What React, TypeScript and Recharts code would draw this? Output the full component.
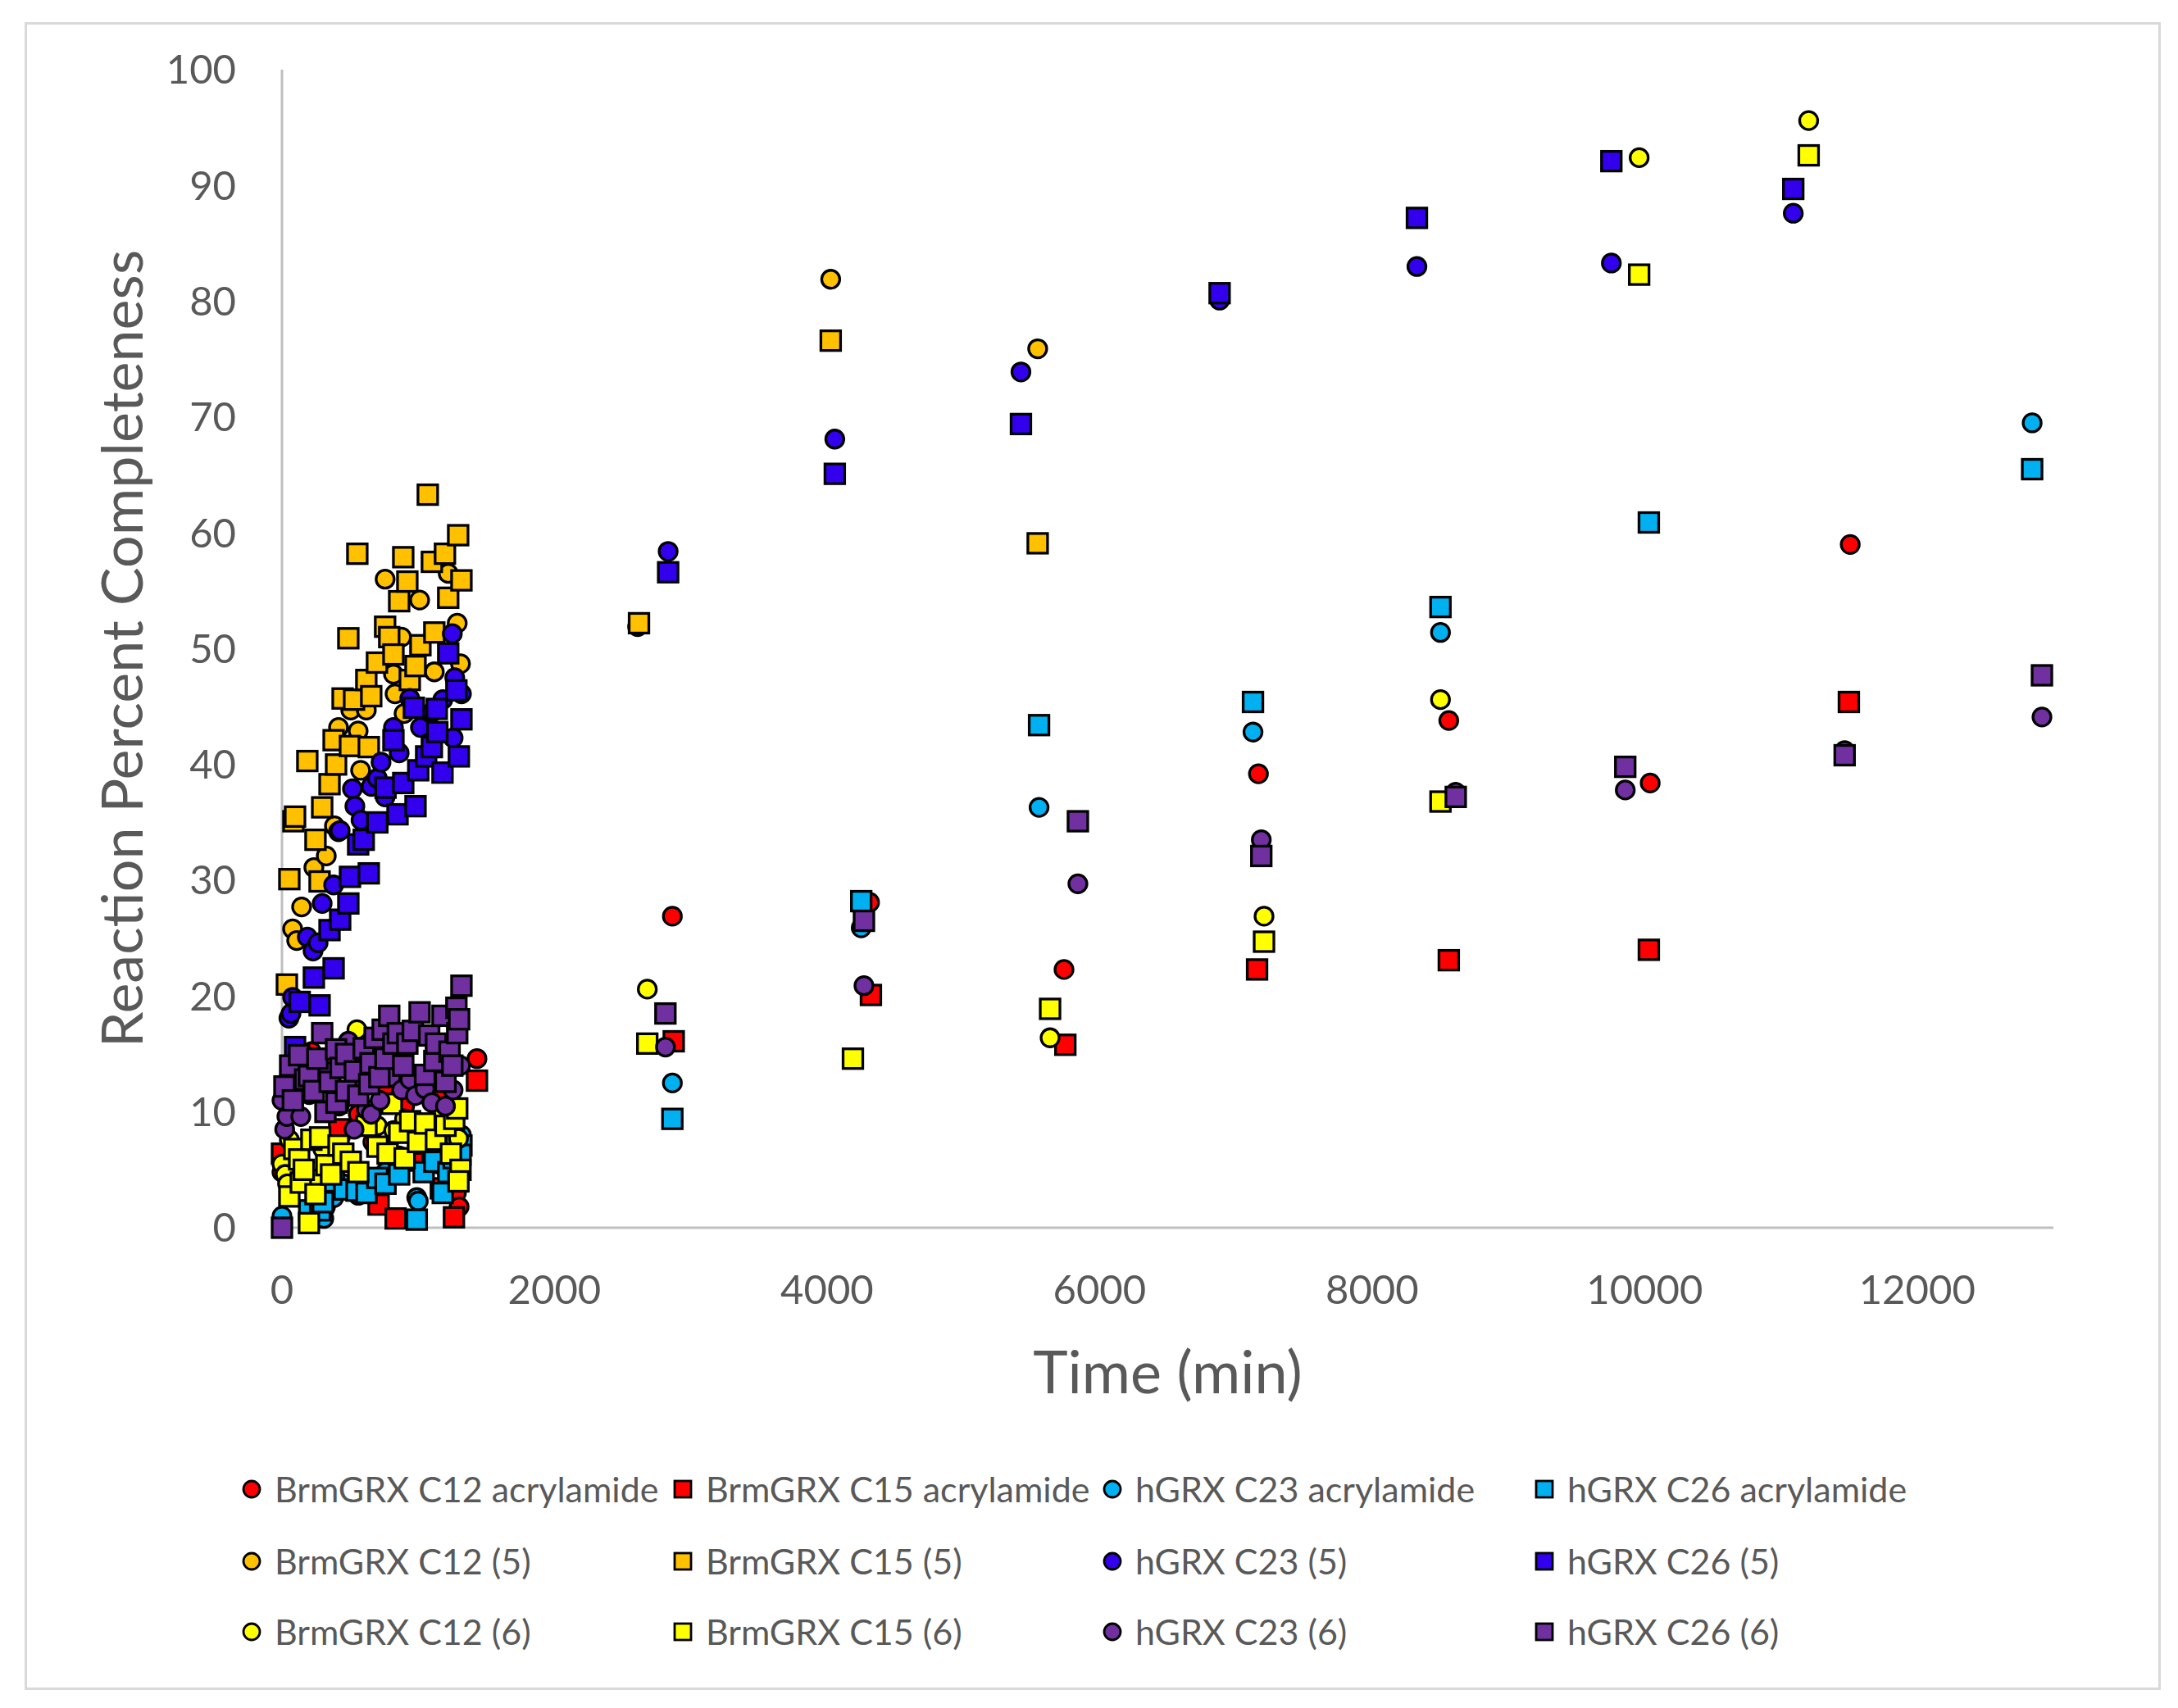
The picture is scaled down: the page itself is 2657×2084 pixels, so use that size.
import React from "react";
import { ScatterChart, Scatter, XAxis, YAxis, Legend } from "recharts";

type P = { x: number; y: number };
const toPts = (a: number[][]): P[] => a.map(([x, y]) => ({ x, y }));

const xTicks = [0, 2000, 4000, 6000, 8000, 10000, 12000];
const yTicks = [0, 10, 20, 30, 40, 50, 60, 70, 80, 90, 100];

const brmC12Acryl = [
  [0, 4.8], [40, 6.5], [216, 15.2], [300, 12.5], [499, 14.5], [560, 9.8], [667, 7.4], [760, 12.2],
  [900, 10.5], [1050, 8.6], [1160, 11.5], [1280, 3.0], [1300, 1.8], [1431, 14.6],
  [2865, 26.9], [4312, 28.1], [5739, 22.3], [7166, 39.2], [8563, 43.8], [10041, 38.4], [11509, 59.0],
];
const brmC15Acryl = [
  [0, 6.4], [150, 4.2], [420, 8.5], [709, 2.0], [834, 0.8], [960, 5.8], [1166, 3.4], [1262, 0.9], [1431, 12.7],
  [2875, 16.1], [4322, 20.1], [5749, 15.8], [7156, 22.3], [8563, 23.1], [10031, 24.0], [11499, 45.4],
];
const hC23Acryl = [
  [0, 1.0], [307, 0.8], [319, 1.8], [380, 2.6], [450, 3.8], [560, 2.8], [679, 3.6], [760, 4.8], [860, 6.2], [989, 2.6],
  [1000, 2.3], [1150, 5.5], [1240, 5.8], [1317, 8.0],
  [2865, 12.5], [4251, 25.9], [5556, 36.3], [7126, 42.8], [8502, 51.4], [12844, 69.5],
];
const hC26Acryl = [
  [200, 1.5], [280, 1.5], [300, 2.2], [380, 4.0], [457, 3.3], [547, 3.2], [620, 3.0], [700, 4.3], [760, 3.8], [860, 4.6],
  [989, 0.7], [1040, 4.8], [1118, 5.7], [1136, 7.6], [1180, 3.0], [1220, 4.8], [1260, 6.0], [1317, 7.1], [1310, 6.3],
  [2865, 9.4], [4251, 28.2], [5556, 43.4], [7126, 45.4], [8502, 53.6], [10031, 60.9], [12844, 65.5],
];
const brmC12_5 = [
  [78, 25.8], [108, 24.8], [144, 27.7], [234, 31.1], [325, 32.1], [385, 34.7], [415, 43.2], [505, 44.7], [559, 42.9],
  [577, 39.5], [619, 44.7], [757, 56.0], [818, 47.8], [830, 46.1], [877, 51.0], [896, 44.4], [1010, 54.2], [1118, 48.0],
  [1220, 56.5], [1286, 52.2], [1310, 48.7],
  [2610, 51.9], [4027, 81.9], [5546, 75.9],
];
const brmC15_5 = [
  [36, 21.0], [54, 30.1], [84, 35.1], [96, 35.5], [186, 40.3], [246, 33.5], [276, 29.9], [295, 36.3], [349, 38.3],
  [379, 42.1], [397, 40.0], [445, 45.7], [487, 50.9], [499, 41.6], [529, 45.6], [553, 58.2], [619, 47.3], [637, 41.5],
  [655, 45.9], [697, 48.8], [757, 51.9], [787, 51.0], [818, 49.5], [860, 54.1], [890, 57.9], [920, 55.8], [938, 47.3],
  [980, 48.5], [1016, 50.3], [1070, 63.3], [1100, 57.5], [1118, 51.4], [1196, 58.2], [1220, 54.4], [1293, 59.8], [1317, 55.9],
  [2620, 52.2], [4027, 76.6], [5546, 59.1],
];
const hC23_5 = [
  [51, 18.1], [66, 18.5], [78, 19.9], [186, 25.1], [228, 23.9], [265, 24.6], [295, 28.0], [379, 29.6], [415, 34.2],
  [427, 34.3], [517, 37.9], [535, 36.4], [580, 35.2], [655, 38.1], [700, 38.8], [727, 40.2], [757, 37.2], [818, 43.2],
  [860, 41.0], [938, 45.7], [1016, 43.2], [1100, 44.5], [1180, 45.6],
  [1256, 42.3], [1250, 51.3], [1268, 47.5], [1317, 46.1],
  [2834, 58.4], [4057, 68.1], [5423, 73.9], [6881, 80.1], [8329, 83.0], [9756, 83.3], [11091, 87.6],
];
const hC26_5 = [
  [96, 15.6], [130, 19.5], [234, 21.6], [276, 19.2], [349, 25.7], [379, 22.4], [427, 26.6], [487, 28.0], [499, 30.3],
  [559, 33.1], [600, 33.5], [637, 30.6], [700, 35.0], [760, 38.0], [818, 42.1], [848, 35.7], [890, 38.4], [968, 44.9],
  [980, 36.4], [1000, 39.5], [1058, 40.7], [1100, 41.5], [1136, 44.8],
  [1140, 42.8], [1178, 39.3], [1220, 49.6], [1280, 46.4], [1298, 40.7], [1317, 43.9],
  [2834, 56.6], [4057, 65.1], [5423, 69.4], [6881, 80.7], [8329, 87.2], [9756, 92.1], [11091, 89.7],
];
const brmC12_6 = [
  [0, 5.5], [24, 4.6], [41, 3.8], [54, 7.6], [120, 6.5], [240, 4.2], [300, 6.8], [480, 6.0], [550, 17.1], [700, 8.8],
  [820, 8.4], [900, 9.4], [1000, 7.2], [1150, 9.8], [1295, 7.7],
  [2681, 20.6], [5637, 16.4], [7207, 26.9], [8502, 45.6], [9960, 92.4], [11204, 95.6],
];
const brmC15_6 = [
  [54, 2.7], [90, 6.8], [126, 5.9], [138, 3.9], [160, 5.0], [198, 0.4], [216, 7.6], [246, 2.9], [280, 7.8], [325, 5.4],
  [360, 4.6], [415, 7.1], [450, 6.4], [505, 5.7], [560, 4.8], [620, 8.8], [700, 7.0], [775, 6.4], [806, 10.7], [860, 8.2],
  [900, 6.0], [940, 9.2], [998, 7.4], [1050, 9.0], [1130, 7.6], [1200, 8.8], [1240, 6.4], [1264, 9.4], [1286, 10.3],
  [1310, 5.0], [1295, 4.0],
  [2681, 15.9], [4190, 14.6], [5637, 18.9], [7207, 24.7], [8502, 36.8], [9960, 82.3], [11204, 92.6],
];
const hC23_6 = [
  [0, 11.0], [20, 8.5], [36, 9.6], [90, 12.5], [138, 9.6], [200, 11.5], [250, 13.0], [337, 13.5], [400, 12.0], [420, 10.5],
  [487, 16.1], [529, 8.5], [580, 12.6], [620, 10.2], [655, 9.8], [720, 11.0], [800, 13.0], [878, 11.9], [940, 12.8],
  [980, 11.4], [1050, 12.0], [1100, 10.8], [1180, 13.2], [1200, 10.5], [1256, 11.9], [1310, 14.0],
  [2814, 15.6], [4271, 20.9], [5841, 29.7], [7187, 33.5], [8614, 37.6], [9858, 37.8], [11468, 41.2], [12916, 44.1],
];
const hC26_6 = [
  [0, 0.0], [18, 12.2], [60, 14.0], [80, 11.0], [126, 14.9], [170, 12.8], [198, 13.1], [234, 11.8], [260, 14.6],
  [295, 16.8], [319, 10.0], [350, 12.6], [397, 15.4], [400, 10.8], [430, 13.8], [470, 15.0], [470, 11.8], [535, 13.5],
  [560, 11.4], [600, 15.5], [640, 12.4], [650, 14.2], [680, 16.4], [715, 13.0], [739, 17.1], [760, 14.6], [787, 18.3],
  [818, 15.9], [850, 16.8], [890, 14.0], [920, 15.9], [960, 17.0], [1010, 18.6], [1050, 13.2], [1080, 16.6],
  [1118, 14.4], [1130, 15.9], [1178, 18.3], [1200, 12.6], [1230, 15.2], [1250, 14.0], [1280, 19.0], [1286, 16.8],
  [1300, 18.0], [1317, 20.9],
  [2814, 18.5], [4271, 26.5], [5841, 35.1], [7187, 32.1], [8614, 37.2], [9858, 39.8], [11468, 40.8], [12916, 47.7],
];

const RED = "#FF0000";
const ORANGE = "#FFC000";
const CYAN = "#00B0F0";
const BLUE = "#3300EE";
const YELLOW = "#FFFF00";
const PURPLE = "#7030A0";

const series = [
  { name: "BrmGRX C12 acrylamide", data: brmC12Acryl, color: RED, shape: "circle" },
  { name: "BrmGRX C15 acrylamide", data: brmC15Acryl, color: RED, shape: "square" },
  { name: "hGRX C23 acrylamide", data: hC23Acryl, color: CYAN, shape: "circle" },
  { name: "hGRX C26 acrylamide", data: hC26Acryl, color: CYAN, shape: "square" },
  { name: "BrmGRX C12 (5)", data: brmC12_5, color: ORANGE, shape: "circle" },
  { name: "BrmGRX C15 (5)", data: brmC15_5, color: ORANGE, shape: "square" },
  { name: "hGRX C23 (5)", data: hC23_5, color: BLUE, shape: "circle" },
  { name: "hGRX C26 (5)", data: hC26_5, color: BLUE, shape: "square" },
  { name: "BrmGRX C12 (6)", data: brmC12_6, color: YELLOW, shape: "circle" },
  { name: "BrmGRX C15 (6)", data: brmC15_6, color: YELLOW, shape: "square" },
  { name: "hGRX C23 (6)", data: hC23_6, color: PURPLE, shape: "circle" },
  { name: "hGRX C26 (6)", data: hC26_6, color: PURPLE, shape: "square" },
];

const FONT = "Lato, 'Open Sans', sans-serif";
const GRAY = "#595959";

const makeShape = (fill: string, kind: string) => (props: any) => {
  const { cx, cy } = props;
  if (cx == null || cy == null) return <g />;
  if (kind === "circle") {
    return <circle cx={cx} cy={cy} r={11} fill={fill} stroke="#000" strokeWidth={3.3} />;
  }
  return <rect x={cx - 12} y={cy - 12} width={24} height={24} fill={fill} stroke="#000" strokeWidth={3.3} />;
};

const colX = [307, 833, 1357, 1884];
const rowY = [57, 145, 231];

const LegendContent = () => (
  <div style={{ position: "relative", width: 2657, height: 300, fontFamily: FONT }}>
    {series.map((s, i) => {
      const c = i % 4;
      const r = Math.floor(i / 4);
      return (
        <div key={s.name} style={{ position: "absolute", left: colX[c] - 13, top: rowY[r] - 30, height: 60, display: "flex", alignItems: "center", whiteSpace: "nowrap" }}>
          <svg width={26} height={26} style={{ display: "block" }}>
            {s.shape === "circle" ? (
              <circle cx={13} cy={13} r={10} fill={s.color} stroke="#000" strokeWidth={2.8} />
            ) : (
              <rect x={3} y={3} width={20} height={20} fill={s.color} stroke="#000" strokeWidth={2.8} />
            )}
          </svg>
          <span style={{ marginLeft: 15, fontSize: 43, color: GRAY, lineHeight: "60px" }}>{s.name}</span>
        </div>
      );
    })}
  </div>
);

const YTitle = (props: any) => {
  const vb = props.viewBox || {};
  const x = 147;
  const y = (vb.y ?? 85) + (vb.height ?? 1413) / 2;
  return (
    <text x={x} y={y} transform={`rotate(-90, ${x}, ${y})`} textAnchor="middle" dominantBaseline="central" fill={GRAY} fontSize={70} fontFamily={FONT}>
      Reaction Percent Completeness
    </text>
  );
};

const XTitle = (props: any) => {
  const vb = props.viewBox || {};
  const x = (vb.x ?? 344) + (vb.width ?? 2161) / 2;
  const y = (vb.y ?? 1498) + 174;
  return (
    <text x={x} y={y} textAnchor="middle" dominantBaseline="central" fill={GRAY} fontSize={72} fontFamily={FONT}>
      Time (min)
    </text>
  );
};

export default function App() {
  return (
    <div style={{ position: "absolute", left: 0, top: 0, width: 2657, height: 2084, background: "#fff", fontFamily: FONT }}>
      <ScatterChart width={2657} height={2084} margin={{ top: 85, right: 152, bottom: 386, left: 144 }}>
        <XAxis
          type="number"
          dataKey="x"
          domain={[0, 13000]}
          ticks={xTicks}
          height={200}
          axisLine={{ stroke: "#BFBFBF", strokeWidth: 3 }}
          tickLine={false}
          tickSize={0}
          tickMargin={58}
          tick={{ fill: GRAY, fontSize: 49, fontFamily: FONT }}
          label={{ content: XTitle }}
        />
        <YAxis
          type="number"
          dataKey="y"
          domain={[0, 100]}
          ticks={yTicks}
          width={200}
          axisLine={{ stroke: "#BFBFBF", strokeWidth: 3 }}
          tickLine={false}
          tickSize={0}
          tickMargin={56}
          tick={{ fill: GRAY, fontSize: 49, fontFamily: FONT }}
          label={{ content: YTitle }}
        />
        {series.map((s) => (
          <Scatter
            key={s.name}
            name={s.name}
            data={toPts(s.data)}
            fill={s.color}
            shape={makeShape(s.color, s.shape)}
            isAnimationActive={false}
          />
        ))}
        <Legend
          layout="horizontal"
          verticalAlign="middle"
          align="center"
          wrapperStyle={{ left: 0, top: 1760, width: 2657, height: 300 }}
          content={LegendContent}
        />
      </ScatterChart>
      <div style={{ position: "absolute", left: 30, top: 27, width: 2600, height: 2029, border: "3px solid #D9D9D9", pointerEvents: "none" }} />
    </div>
  );
}
